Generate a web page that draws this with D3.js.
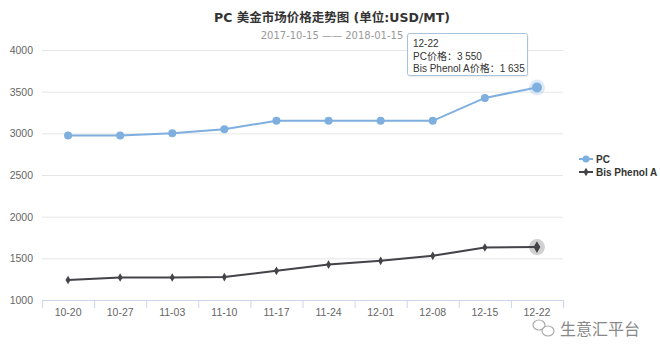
<!DOCTYPE html>
<html><head><meta charset="utf-8">
<script src="https://cdn.jsdelivr.net/npm/d3@7/dist/d3.min.js"></script>
<style>
body{margin:0;background:#fff;}
svg{font-family:"DejaVu Sans","Noto Sans CJK SC",sans-serif;}
</style></head>
<body><svg id="c" width="660" height="358"></svg>
<script>
const categories = ["10-20","10-27","11-03","11-10","11-17","11-24","12-01","12-08","12-15","12-22"];
const pcValues = [2975,2975,3000,3050,3150,3150,3150,3150,3425,3550];
const bpaValues = [1240,1270,1270,1275,1350,1425,1470,1530,1630,1635];
const yTicks = [1000,1500,2000,2500,3000,3500,4000];
const seriesNames = ["PC","Bis Phenol A"];
const seriesColors = ["#7eafdf","#434348"];
const titleText = "PC 美金市场价格走势图 (单位:USD/MT)";
const subtitleText = "2017-10-15 —— 2018-01-15";

(function(){
const svg = d3.select("#c");
const pLeft = 42, pRight = 563, pTop = 50, pBottom = 300;
const x = d3.scaleBand().domain(categories).range([pLeft, pRight]);
const y = d3.scaleLinear().domain([1000, 4000]).range([pBottom, pTop]);

// title
svg.append("text").attr("x", 332).attr("y", 22).attr("text-anchor","middle")
  .attr("font-size", 12.5).attr("font-weight","bold").attr("fill","#333").text(titleText);
svg.append("text").attr("x", 332).attr("y", 39).attr("text-anchor","middle")
  .attr("font-size", 10).attr("fill","#999").text(subtitleText);

// grid + y labels
const yAxis = d3.axisLeft(y).tickValues(yTicks).tickFormat(d3.format("d")).tickSize(-(pRight-pLeft)).tickPadding(8);
const gy = svg.append("g").attr("transform", `translate(${pLeft},0)`).call(yAxis);
gy.select(".domain").remove();
gy.selectAll(".tick line").attr("stroke","#e6e6e6");
gy.selectAll(".tick text").attr("fill","#666").attr("font-size",10.5).attr("x",-9).attr("text-anchor","end");

// x axis
const xAxis = d3.axisBottom(x).tickSize(0).tickPadding(9);
const gx = svg.append("g").attr("transform", `translate(0,${pBottom})`).call(xAxis);
gx.select(".domain").attr("stroke","#ccd6eb");
gx.selectAll(".tick text").attr("fill","#666").attr("font-size",10.5);
const bounds = categories.map(c => x(c)).concat([pRight]);
svg.append("g").selectAll("line").data(bounds).join("line")
  .attr("x1", d=>d+0.5).attr("x2", d=>d+0.5).attr("y1", pBottom).attr("y2", pBottom+8)
  .attr("stroke","#ccd6eb");

const cx = c => x(c) + x.bandwidth()/2;
const line = d3.line().x((d,i)=>cx(categories[i])).y(d=>y(d));

[pcValues, bpaValues].forEach((vals, si) => {
  const col = seriesColors[si];
  svg.append("path").datum(vals).attr("d", line).attr("fill","none")
    .attr("stroke", col).attr("stroke-width", 2);
  const last = vals.length-1;
  svg.append("circle").attr("cx", cx(categories[last])).attr("cy", y(vals[last]))
    .attr("r", 8).attr("fill", col).attr("opacity", 0.25);
  if (si === 0) {
    svg.append("g").selectAll("circle").data(vals).join("circle")
      .attr("cx",(d,i)=>cx(categories[i])).attr("cy",d=>y(d))
      .attr("r",(d,i)=> i===last?5:4).attr("fill",col);
  } else {
    svg.append("g").selectAll("path").data(vals).join("path")
      .attr("d",(d,i)=>d3.symbol(d3.symbolDiamond, i===last?40:22)())
      .attr("transform",(d,i)=>`translate(${cx(categories[i])},${y(d)})`).attr("fill",col);
  }
});

// legend
const lg = svg.append("g");
seriesNames.forEach((n,i)=>{
  const ly = 159 + i*13;
  lg.append("line").attr("x1",579).attr("x2",593).attr("y1",ly).attr("y2",ly)
    .attr("stroke",seriesColors[i]).attr("stroke-width",2);
  if (i===0) lg.append("circle").attr("cx",586).attr("cy",ly).attr("r",3.5).attr("fill",seriesColors[i]);
  else lg.append("path").attr("d",d3.symbol(d3.symbolDiamond,22)()).attr("transform",`translate(586,${ly})`).attr("fill",seriesColors[i]);
  lg.append("text").attr("x",596).attr("y",ly+3.5).attr("font-size",10).attr("font-weight","bold")
    .attr("font-family","'Liberation Sans',Arial,sans-serif")
    .attr("fill","#333").text(n);
});

// tooltip
const li = categories.length-1;
const tt = svg.append("g").attr("transform","translate(407,33)");
tt.append("rect").attr("x",1.5).attr("y",1.5).attr("width",120).attr("height",43).attr("rx",2)
  .attr("fill","#000").attr("opacity",0.06);
tt.append("rect").attr("x",0.5).attr("y",0.5).attr("width",120).attr("height",42).attr("rx",2)
  .attr("fill","rgba(255,255,255,0.95)").attr("stroke","#a9c2dc");
const fmt = v => d3.format(",")(v).replace(/,/g," ");
const tf = "'Liberation Sans','Noto Sans CJK SC',sans-serif";
tt.append("text").attr("x",6).attr("y",14).attr("font-size",10).attr("font-family",tf).attr("fill","#333").text(categories[li]);
tt.append("text").attr("x",6).attr("y",27).attr("font-size",10).attr("font-family",tf).attr("fill","#333").text(seriesNames[0]+"价格："+fmt(pcValues[li]));
tt.append("text").attr("x",6).attr("y",39).attr("font-size",10).attr("font-family",tf).attr("fill","#333").text(seriesNames[1]+"价格："+fmt(bpaValues[li]));

// watermark
const wm = svg.append("g");
wm.append("ellipse").attr("cx",539).attr("cy",325).attr("rx",6).attr("ry",5).attr("fill","none").attr("stroke","#aaa").attr("stroke-width",1.2);
wm.append("ellipse").attr("cx",548).attr("cy",331).attr("rx",6).attr("ry",5).attr("fill","#fff").attr("stroke","#aaa").attr("stroke-width",1.2);
wm.append("text").attr("x",560).attr("y",335).attr("font-size",16).attr("fill","#888")
  .attr("font-family","Noto Sans CJK SC").text("生意汇平台");
})();
</script></body></html>
